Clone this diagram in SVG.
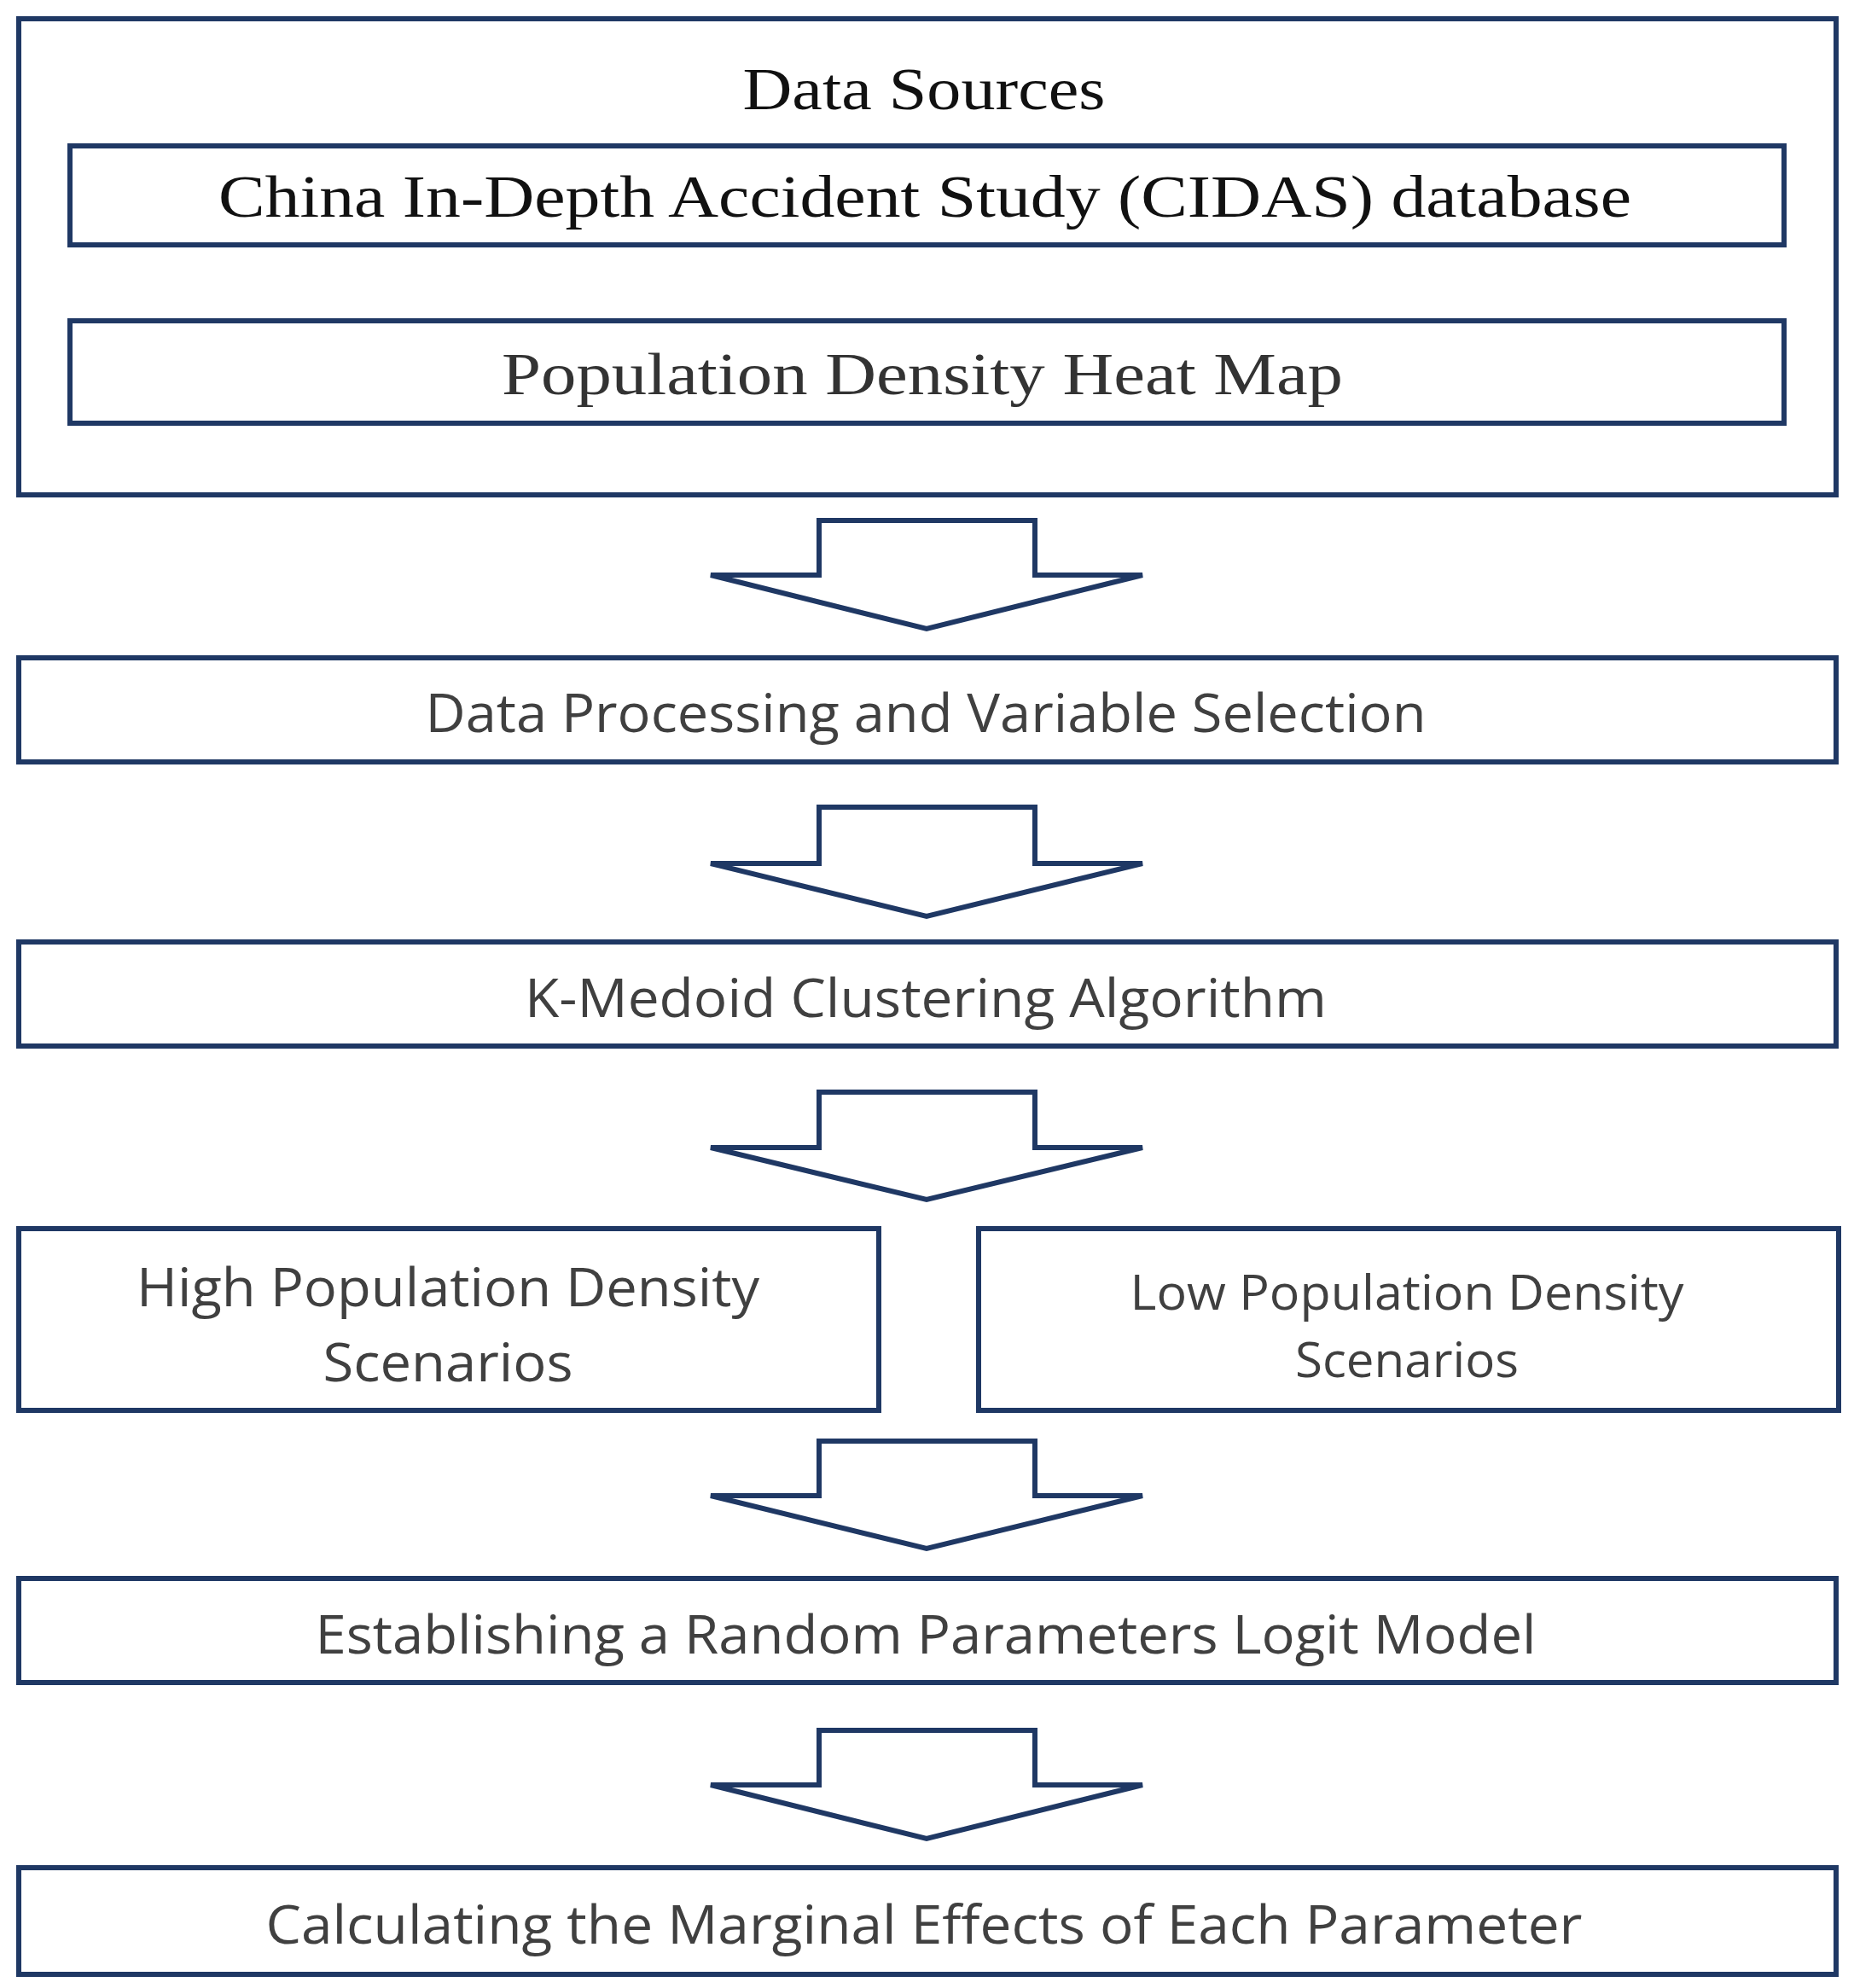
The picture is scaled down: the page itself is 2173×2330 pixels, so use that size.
<svg xmlns="http://www.w3.org/2000/svg" width="2173" height="2330" viewBox="0 0 2173 2330">
<style>
.b{fill:#fff;stroke:#1f3864;stroke-width:6}
.a{fill:#fff;stroke:#1f3864;stroke-width:6;stroke-linejoin:miter}
.s{font-family:"Liberation Serif",serif;font-size:70px;fill:#111;text-anchor:middle;dominant-baseline:central}
.t{font-family:"Open Sans","Liberation Sans",sans-serif;font-size:62px;fill:#404040;text-anchor:middle;dominant-baseline:central}
</style>
<rect width="2173" height="2330" fill="#fff"/>
<g id="sources"><rect class="b" x="22" y="22" width="2130" height="558"/>
<text class="s" x="1083" y="104" textLength="425" lengthAdjust="spacingAndGlyphs">Data Sources</text></g>
<g id="cidas"><rect class="b" x="82" y="171" width="2009" height="116"/>
<text class="s" x="1084" y="230" textLength="1656" lengthAdjust="spacingAndGlyphs">China In-Depth Accident Study (CIDAS) database</text></g>
<g id="heatmap"><rect class="b" x="82" y="376" width="2009" height="120"/>
<text class="s" x="1081" y="438" fill="#404040" style="fill:#333" textLength="986" lengthAdjust="spacingAndGlyphs">Population Density Heat Map</text></g>
<g id="connectors">
<path class="a" d="M960 610H1213V674H1339L1086 737L833 674H960Z"/>
<path class="a" d="M960 946H1213V1012H1339L1086 1074L833 1012H960Z"/>
<path class="a" d="M960 1280H1213V1345H1339L1086 1406L833 1345H960Z"/>
<path class="a" d="M960 1689H1213V1753H1339L1086 1815L833 1753H960Z"/>
<path class="a" d="M960 2028H1213V2092H1339L1086 2155L833 2092H960Z"/>
</g>
<g id="processing"><rect class="b" x="22" y="771" width="2130" height="122"/>
<text class="t" x="1085" y="834" textLength="1173" lengthAdjust="spacingAndGlyphs">Data Processing and Variable Selection</text></g>
<g id="kmedoid"><rect class="b" x="22" y="1104" width="2130" height="122"/>
<text class="t" x="1085" y="1168" textLength="940" lengthAdjust="spacingAndGlyphs">K-Medoid Clustering Algorithm</text></g>
<g id="high"><rect class="b" x="22" y="1440" width="1008" height="213"/>
<text class="t" x="525" y="1507" textLength="730" lengthAdjust="spacingAndGlyphs">High Population Density</text>
<text class="t" x="525" y="1595" textLength="293" lengthAdjust="spacingAndGlyphs">Scenarios</text></g>
<g id="low"><rect class="b" x="1147" y="1440" width="1008" height="213"/>
<text class="t" x="1649" y="1513" font-size="56" style="font-size:56px" textLength="649" lengthAdjust="spacingAndGlyphs">Low Population Density</text>
<text class="t" x="1649" y="1592" style="font-size:56px" textLength="262" lengthAdjust="spacingAndGlyphs">Scenarios</text></g>
<g id="logit"><rect class="b" x="22" y="1850" width="2130" height="122"/>
<text class="t" x="1085" y="1914" textLength="1431" lengthAdjust="spacingAndGlyphs">Establishing a Random Parameters Logit Model</text></g>
<g id="marginal"><rect class="b" x="22" y="2189" width="2130" height="125"/>
<text class="t" x="1083" y="2254" textLength="1543" lengthAdjust="spacingAndGlyphs">Calculating the Marginal Effects of Each Parameter</text></g>
</svg>
